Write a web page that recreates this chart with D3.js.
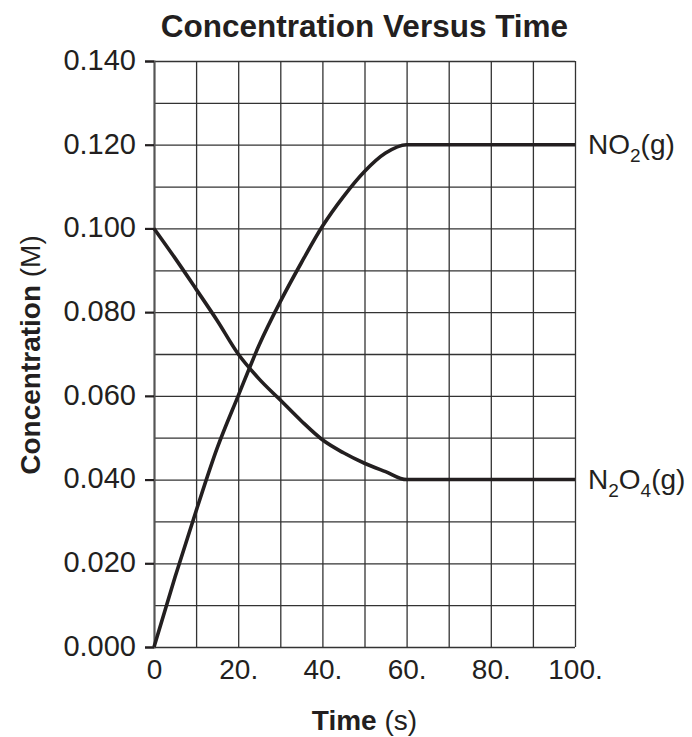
<!DOCTYPE html>
<html>
<head>
<meta charset="utf-8">
<script src="https://cdn.jsdelivr.net/npm/d3@7"></script>
<style>
  body { margin: 0; background: #fff; }
  svg { font-family: "Liberation Sans", Arial, Helvetica, sans-serif; fill: #231f20; }
</style>
</head>
<body>
<div id="chart"></div>
<script>
// Time points (s)
const times = [0, 5, 10, 15, 20, 25, 30, 35, 40, 45, 50, 55, 60, 100];
// NO2(g) concentration (M)
const no2 = [0, 0.0167, 0.0325, 0.0475, 0.060, 0.0722, 0.0825, 0.0918, 0.1005, 0.1076, 0.1136, 0.118, 0.120, 0.120];
// N2O4(g) concentration (M)
const n2o4 = [0.100, 0.0929, 0.0855, 0.078, 0.070, 0.064, 0.059, 0.054, 0.0495, 0.0464, 0.0439, 0.0419, 0.040, 0.040];

const yTickValues = [0, 0.02, 0.04, 0.06, 0.08, 0.10, 0.12, 0.14];
const yTickLabels = ["0.000", "0.020", "0.040", "0.060", "0.080", "0.100", "0.120", "0.140"];
const xTickValues = [0, 20, 40, 60, 80, 100];
const xTickLabels = ["0", "20.", "40.", "60.", "80.", "100."];

const width = 692, height = 737;
const margin = { top: 61, right: 117, bottom: 90, left: 154 },
    w = width - margin.left - margin.right,
    h = height - margin.top - margin.bottom;

const ink = "#231f20";

let x = d3.scaleLinear().domain([0, 100]).range([0, w]);
let y = d3.scaleLinear().domain([0, 0.14]).range([h, 0]);

let svg = d3.select("#chart")
    .append("svg")
    .attr("width", width)
    .attr("height", height);

let g = svg.append("g")
    .attr("transform", "translate(" + margin.left + "," + margin.top + ")");

// grid: vertical every 10 s, horizontal every 0.010 M
g.append("g")
    .attr("transform", "translate(0," + h + ")")
    .call(d3.axisBottom(x).tickValues(d3.range(0, 101, 10)).tickSize(-h).tickFormat(""))
    .call(a => a.select(".domain").remove())
    .selectAll("line").attr("stroke", "#333").attr("stroke-width", 1.3);

g.append("g")
    .call(d3.axisLeft(y).tickValues(d3.range(0, 15).map(i => i / 100)).tickSize(-w).tickFormat(""))
    .call(a => a.select(".domain").remove())
    .selectAll("line").attr("stroke", "#333").attr("stroke-width", 1.3);

// left axis with labelled ticks
let yAxis = g.append("g")
    .call(d3.axisLeft(y).tickValues(yTickValues).tickSize(9).tickPadding(9)
        .tickFormat((d, i) => yTickLabels[i]));
yAxis.select(".domain").attr("stroke", "#555").attr("stroke-width", 2);
yAxis.selectAll("line").attr("stroke", ink).attr("stroke-width", 2.2);
yAxis.selectAll("text")
    .attr("font-size", 29).attr("fill", ink)
    .attr("font-family", "Liberation Sans, Arial, sans-serif")
    .attr("dy", "0.29em");

// bottom tick labels (no tick marks)
let xAxis = g.append("g")
    .attr("transform", "translate(0," + h + ")")
    .call(d3.axisBottom(x).tickValues(xTickValues).tickSize(0).tickPadding(12)
        .tickFormat((d, i) => xTickLabels[i]));
xAxis.select(".domain").remove();
xAxis.selectAll("text")
    .attr("font-size", 28).attr("fill", ink)
    .attr("font-family", "Liberation Sans, Arial, sans-serif");

// curves
let line = d3.line()
    .x((d, i) => x(times[i]))
    .y(d => y(d))
    .curve(d3.curveMonotoneX);

[no2, n2o4].forEach(series => {
    g.append("path")
        .attr("d", line(series))
        .attr("fill", "none")
        .attr("stroke", ink)
        .attr("stroke-width", 3.6)
        .attr("stroke-linejoin", "round");
});

// series labels
function formula(parts, yv) {
    let t = g.append("text")
        .attr("x", w + 13)
        .attr("y", y(yv) + 9)
        .attr("font-size", 28)
        .attr("fill", ink);
    parts.forEach(p => {
        if (p.sub) {
            t.append("tspan").attr("font-size", 19).attr("dy", 8).text(p.t);
        } else {
            t.append("tspan").attr("dy", p.after ? -8 : 0).text(p.t);
        }
    });
}
formula([{ t: "NO" }, { t: "2", sub: true }, { t: "(g)", after: true }], 0.120);
formula([{ t: "N" }, { t: "2", sub: true }, { t: "O", after: true }, { t: "4", sub: true }, { t: "(g)", after: true }], 0.040);

// title
svg.append("text")
    .attr("x", margin.left + w / 2)
    .attr("y", 37)
    .attr("text-anchor", "middle")
    .attr("font-size", 31.5)
    .attr("font-weight", "bold")
    .attr("fill", ink)
    .text("Concentration Versus Time");

// x axis title
let xt = svg.append("text")
    .attr("x", margin.left + w / 2)
    .attr("y", 730)
    .attr("text-anchor", "middle")
    .attr("font-size", 28)
    .attr("fill", ink);
xt.append("tspan").attr("font-weight", "bold").text("Time");
xt.append("tspan").text(" (s)");

// y axis title
let yt = svg.append("text")
    .attr("transform", "translate(40," + 355 + ") rotate(-90)")
    .attr("text-anchor", "middle")
    .attr("font-size", 28)
    .attr("fill", ink);
yt.append("tspan").attr("font-weight", "bold").text("Concentration");
yt.append("tspan").text(" (M)");
</script>
</body>
</html>
